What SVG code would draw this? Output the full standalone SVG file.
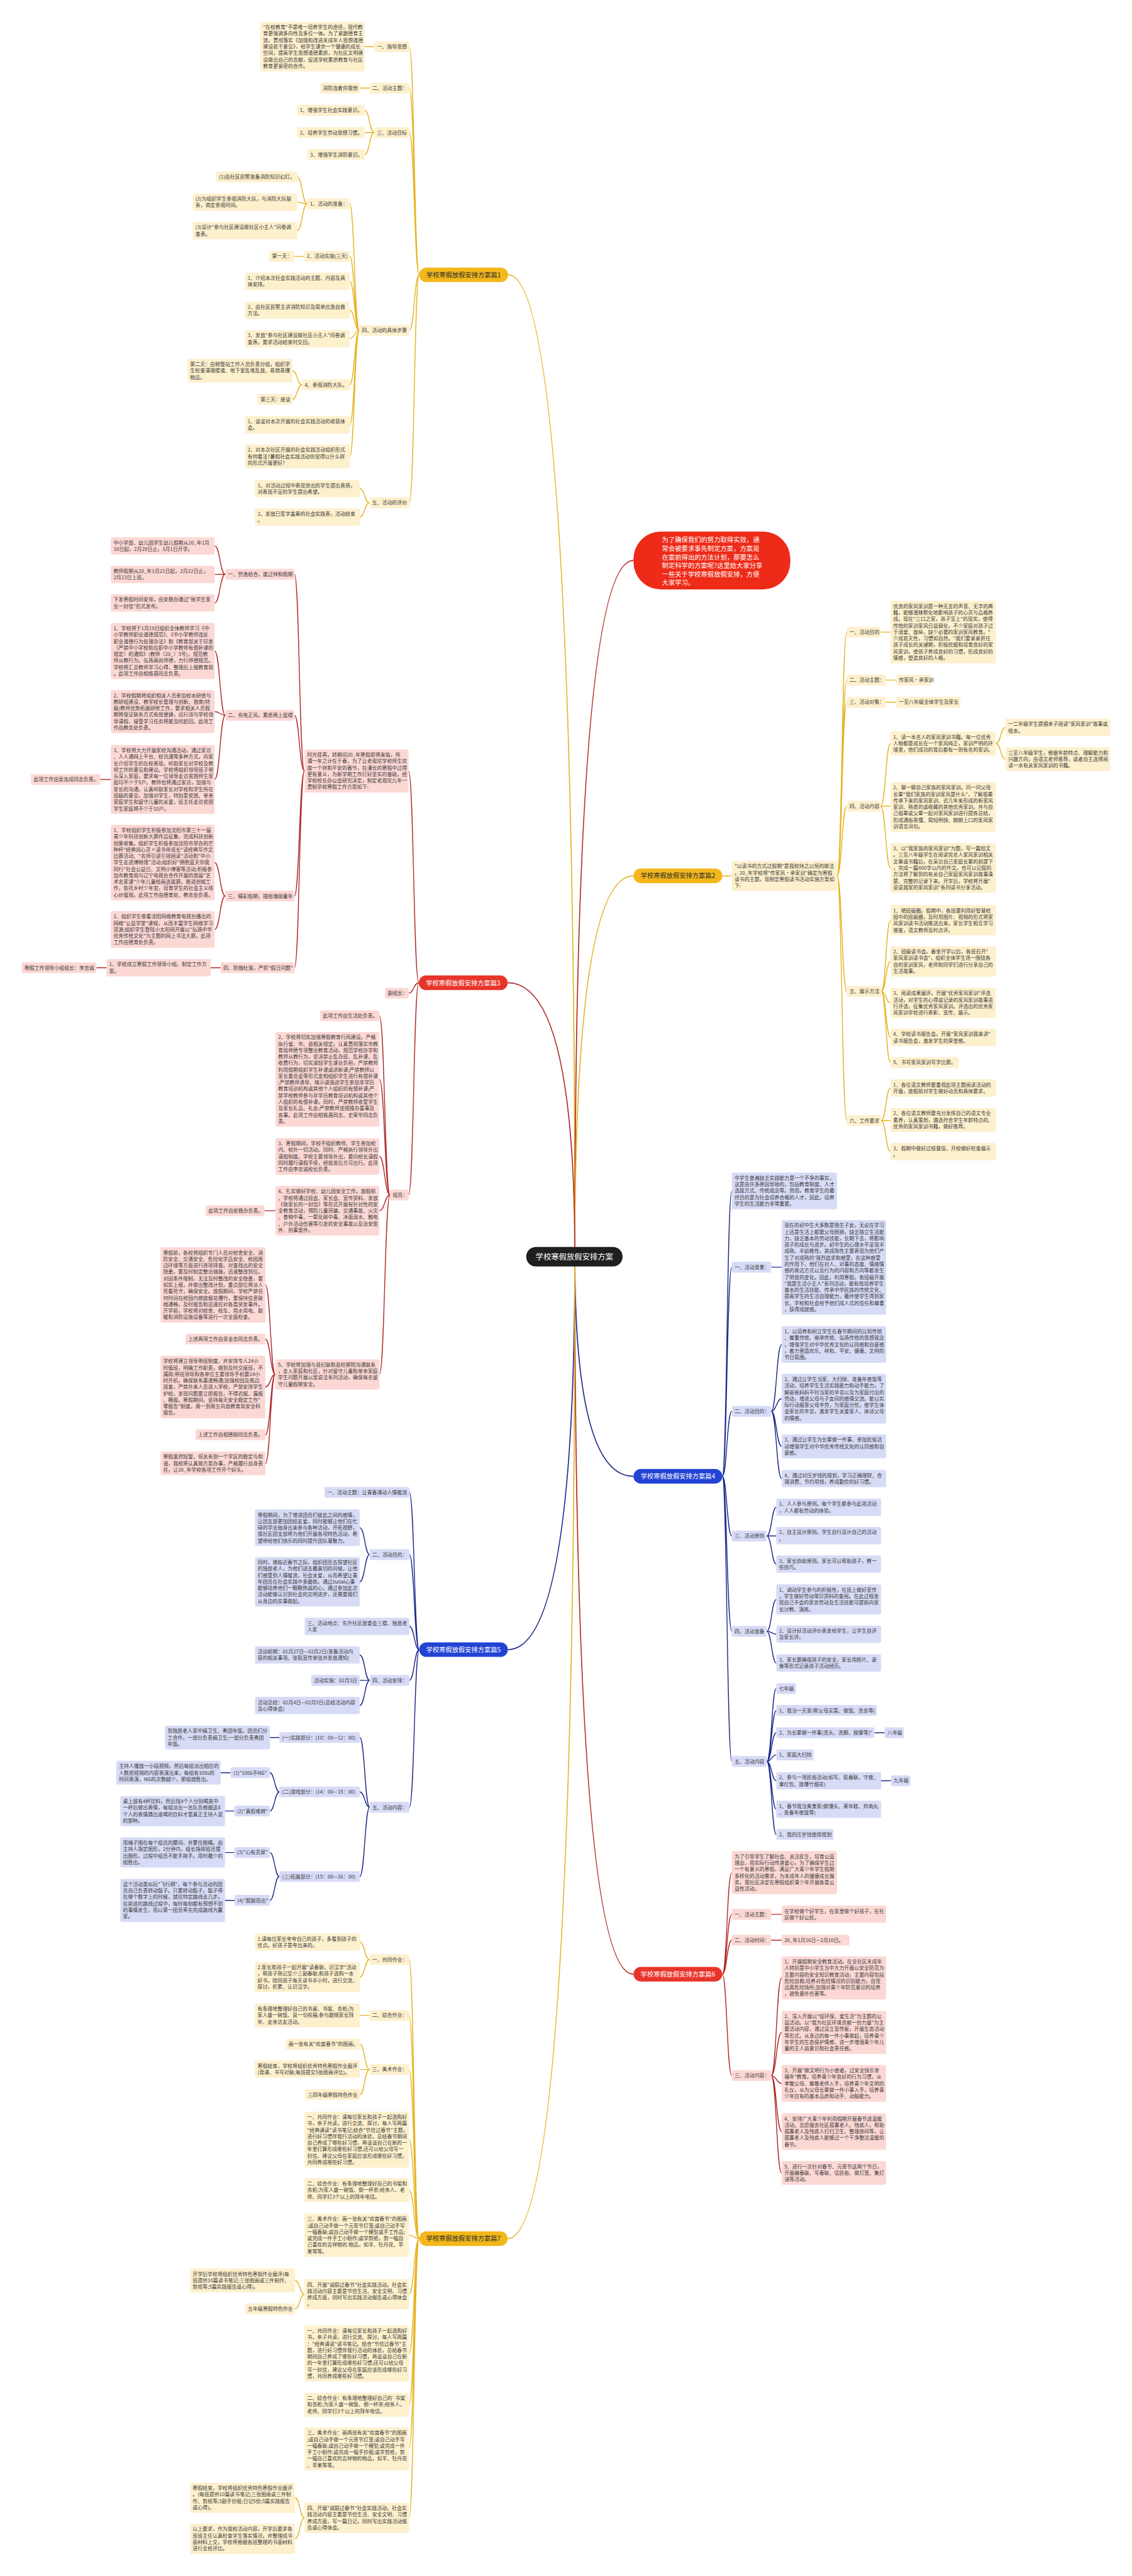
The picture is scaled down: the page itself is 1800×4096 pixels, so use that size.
<svg xmlns="http://www.w3.org/2000/svg" width="1800" height="4096" viewBox="0 0 1800 4096">
<style>
text{font-family:"Noto Sans CJK SC","Noto Sans",sans-serif;font-size:11.3px;fill:#383838}
.cy{fill:#FDF0CD}.cr{fill:#FCD8D5}.cb{fill:#D7DBF6}
.ny{fill:#F3B71B}.nr{fill:#E8352A}.nb{fill:#2243D3}
.nt{font-size:14.6px;text-anchor:middle;fill:#fff}.nty{font-size:14.6px;text-anchor:middle;fill:#2b2b2b}
.ly,.lr,.lb{fill:none;stroke-width:2}
.ly{stroke:#E6B422}.lr{stroke:#B02A2A}.lb{stroke:#1C2A8A}
.m{stroke-width:2.5}
</style>
<rect width="1800" height="4096" fill="#fff"/>
<g transform="scale(0.703125)">
<g id="connectors">
<path class="ly m" d="M1300 2842Q1300 621.5 1149 621.5"/>
<path class="lr m" d="M1300 2842Q1300 1267.5 1432.6 1267.5"/>
<path class="ly m" d="M1300 2842Q1300 1980.5 1432.6 1980.5"/>
<path class="lr m" d="M1300 2842Q1300 2222.5 1148 2222.5"/>
<path class="lb m" d="M1300 2842Q1300 3338.5 1432.6 3338.5"/>
<path class="lb m" d="M1300 2842Q1300 3730.5 1148.5 3730.5"/>
<path class="lr m" d="M1300 2842Q1300 4464.5 1432.6 4464.5"/>
<path class="ly m" d="M1300 2842Q1300 5062.5 1148 5062.5"/>
<path class="ly" d="M948 621.5C937 621.5 937 105.6 925.5 105.6M948 621.5C937 621.5 937 199.2 925.5 199.2M948 621.5C937 621.5 937 299.8 925.5 299.8M948 621.5C937 621.5 937 747.2 925.5 747.2M948 621.5C937 621.5 937 1137.2 925.5 1137.2M846.5 105.6H825M836 199.2H813.6M846.5 299.8C835.6 299.8 835.6 249.5 824.7 249.5M846.5 299.8H824.7M846.5 299.8C835.6 299.8 835.6 349.5 824.7 349.5M812.6 747.2C801.7 747.2 801.7 461 790.8 461M812.6 747.2C801.7 747.2 801.7 579.7 790.8 579.7M812.6 747.2C801.7 747.2 801.7 636.3 790.8 636.3M812.6 747.2C801.7 747.2 801.7 701.6 790.8 701.6M812.6 747.2C801.7 747.2 801.7 766 790.8 766M812.6 747.2C801.7 747.2 801.7 870.3 790.8 870.3M812.6 747.2C801.7 747.2 801.7 960.6 790.8 960.6M812.6 747.2C801.7 747.2 801.7 1032.3 790.8 1032.3M695 461C683.5 461 683.5 399.8 672 399.8M695 461C683.5 461 683.5 457.1 672 457.1M695 461C683.5 461 683.5 521.5 672 521.5M687.6 579.7H664.8M683 870.3C672 870.3 672 838.3 661.4 838.3M683 870.3C672 870.3 672 902.8 661.4 902.8M835.4 1137.2C824.5 1137.2 824.5 1105.1 813.6 1105.1M835.4 1137.2C824.5 1137.2 824.5 1169.3 813.6 1169.3"/>
<path class="lr" d="M947 2222.5C935.5 2222.5 935.5 1743.5 924 1743.5M947 2222.5C935.5 2222.5 935.5 2246.1 924 2246.1M947 2222.5C935.5 2222.5 935.5 2702.5 924 2702.5M688.6 1743.5C677 1743.5 677 1298.5 666 1298.5M688.6 1743.5C677 1743.5 677 1617.7 666 1617.7M688.6 1743.5C677 1743.5 677 2026.2 666 2026.2M688.6 1743.5C677 1743.5 677 2188.4 666 2188.4M509.5 1298.5C497.5 1298.5 497.5 1234.3 485.4 1234.3M509.5 1298.5C497.5 1298.5 497.5 1299 485.4 1299M509.5 1298.5C497.5 1298.5 497.5 1363.5 485.4 1363.5M509.5 1617.7C497.5 1617.7 497.5 1472.2 485.4 1472.2M509.5 1617.7C497.5 1617.7 497.5 1609.3 485.4 1609.3M509.5 1617.7C497.5 1617.7 497.5 1762.8 485.4 1762.8M250.6 1762.8H227.3M509.5 2026.2C497.5 2026.2 497.5 1950.6 485.4 1950.6M509.5 2026.2C497.5 2026.2 497.5 2102 485.4 2102M499 2188.4H476.4M240.8 2188.4H218M882 2702.5C870 2702.5 870 2297 858 2297M882 2702.5C870 2702.5 870 2440.8 858 2440.8M882 2702.5C870 2702.5 870 2615.1 858 2615.1M882 2702.5C870 2702.5 870 2738 858 2738M882 2702.5C870 2702.5 870 3108.1 858 3108.1M623 2738H598M622.7 3108.1C611.5 3108.1 611.5 2905.8 600.2 2905.8M622.7 3108.1C611.5 3108.1 611.5 3028.2 600.2 3028.2M622.7 3108.1C611.5 3108.1 611.5 3136.6 600.2 3136.6M622.7 3108.1C611.5 3108.1 611.5 3244.8 600.2 3244.8M622.7 3108.1C611.5 3108.1 611.5 3309.3 600.2 3309.3"/>
<path class="lb" d="M948 3730.5C937 3730.5 937 3374.7 925.7 3374.7M948 3730.5C937 3730.5 937 3515.5 925.7 3515.5M948 3730.5C937 3730.5 937 3677.8 925.7 3677.8M948 3730.5C937 3730.5 937 3800 925.7 3800M948 3730.5C937 3730.5 937 4087 925.7 4087M836 3515.5C825 3515.5 825 3454.8 813.5 3454.8M836 3515.5C825 3515.5 825 3577 813.5 3577M836 3800C825 3800 825 3742.5 813.5 3742.5M836 3800H813.5M836 3800C825 3800 825 3856.8 813.5 3856.8M836 4087C825 4087 825 3929.3 813.5 3929.3M836 4087C825 4087 825 4052.2 813.5 4052.2M836 4087C825 4087 825 4243.5 813.5 4243.5M632 3929.3H610.3M632 4052.2C621 4052.2 621 4008.9 610.3 4008.9M632 4052.2C621 4052.2 621 4095.5 610.3 4095.5M521.7 4008.9H499M530 4095.5H508.8M632 4243.5C621 4243.5 621 4189.3 610.3 4189.3M632 4243.5C621 4243.5 621 4297.5 610.3 4297.5M530 4189.3H508.8M530.5 4297.5H508.8"/>
<path class="ly" d="M948 5062.5C936.5 5062.5 936.5 4431.6 925 4431.6M948 5062.5C936.5 5062.5 936.5 4557.7 925 4557.7M948 5062.5C936.5 5062.5 936.5 4680 925 4680M948 5062.5C936.5 5062.5 936.5 4838.6 925 4838.6M948 5062.5C936.5 5062.5 936.5 4952.9 925 4952.9M948 5062.5C936.5 5062.5 936.5 5054.8 925 5054.8M948 5062.5C936.5 5062.5 936.5 5188.4 925 5188.4M948 5062.5C936.5 5062.5 936.5 5322.2 925 5322.2M948 5062.5C936.5 5062.5 936.5 5438 925 5438M948 5062.5C936.5 5062.5 936.5 5538.3 925 5538.3M948 5062.5C936.5 5062.5 936.5 5694 925 5694M835.6 4431.6C824.6 4431.6 824.6 4391.8 813.7 4391.8M835.6 4431.6C824.6 4431.6 824.6 4471.2 813.7 4471.2M835.6 4557.7H813.7M835.6 4680C824.6 4680 824.6 4622.8 813.7 4622.8M835.6 4680H813.7M835.6 4680C824.6 4680 824.6 4737 813.7 4737M688.7 5188.4C678 5188.4 678 5157 667.2 5157M688.7 5188.4C678 5188.4 678 5221.4 667.2 5221.4M688.7 5694C678 5694 678 5648.7 667.2 5648.7M688.7 5694C678 5694 678 5741.4 667.2 5741.4"/>
<path class="ly" d="M1633.5 1980.7H1655M1893 1981C1904 1981 1904 1429.5 1915 1429.5M1893 1981C1904 1981 1904 1538 1915 1538M1893 1981C1904 1981 1904 1588 1915 1588M1893 1981C1904 1981 1904 1823 1915 1823M1893 1981C1904 1981 1904 2242 1915 2242M1893 1981C1904 1981 1904 2534 1915 2534M1991.5 1429.5H2014M2003 1538H2026.7M2003 1588H2026.7M1991.5 1823C2003 1823 2003 1681.4 2014 1681.4M1991.5 1823H2014M1991.5 1823C2003 1823 2003 1962.9 2014 1962.9M2252 1681.4C2263 1681.4 2263 1645 2274 1645M2252 1681.4C2263 1681.4 2263 1716.9 2274 1716.9M1993 2242C2003.5 2242 2003.5 2081.2 2014 2081.2M1993 2242C2003.5 2242 2003.5 2174.2 2014 2174.2M1993 2242C2003.5 2242 2003.5 2268.2 2014 2268.2M1993 2242C2003.5 2242 2003.5 2346 2014 2346M1993 2242C2003.5 2242 2003.5 2403 2014 2403M1993 2534C2003.5 2534 2003.5 2460.6 2014 2460.6M1993 2534H2014M1993 2534C2003.5 2534 2003.5 2604.6 2014 2604.6"/>
<path class="lb" d="M1633.5 3338.5C1644 3338.5 1644 2693.2 1655 2693.2M1633.5 3338.5C1644 3338.5 1644 2865.5 1655 2865.5M1633.5 3338.5C1644 3338.5 1644 3191.5 1655 3191.5M1633.5 3338.5C1644 3338.5 1644 3473.5 1655 3473.5M1633.5 3338.5C1644 3338.5 1644 3689 1655 3689M1633.5 3338.5C1644 3338.5 1644 3983.5 1655 3983.5M1744 2865.6H1767.7M1744 3191.5C1756 3191.5 1756 3040.5 1767.7 3040.5M1744 3191.5C1756 3191.5 1756 3163.1 1767.7 3163.1M1744 3191.5C1756 3191.5 1756 3270.9 1767.7 3270.9M1744 3191.5C1756 3191.5 1756 3343.6 1767.7 3343.6M1734 3473.5C1745 3473.5 1745 3408.6 1755.6 3408.6M1734 3473.5H1755.6M1734 3473.5C1745 3473.5 1745 3537.1 1755.6 3537.1M1734 3689C1745 3689 1745 3617.2 1755.6 3617.2M1734 3689C1745 3689 1745 3695.6 1755.6 3695.6M1734 3689C1745 3689 1745 3760.6 1755.6 3760.6M1734 3983.5C1745 3983.5 1745 3818.5 1755.6 3818.5M1734 3983.5C1745 3983.5 1745 3868 1755.6 3868M1734 3983.5C1745 3983.5 1745 3918.5 1755.6 3918.5M1734 3983.5C1745 3983.5 1745 3968.5 1755.6 3968.5M1734 3983.5C1745 3983.5 1745 4027.1 1755.6 4027.1M1734 3983.5C1745 3983.5 1745 4091.6 1755.6 4091.6M1734 3983.5C1745 3983.5 1745 4148.5 1755.6 4148.5M1977.4 3918.5H2000.7M1992.6 4027.1H2015"/>
<path class="lr" d="M1633.5 4464.5C1644 4464.5 1644 4234.8 1655 4234.8M1633.5 4464.5C1644 4464.5 1644 4329 1655 4329M1633.5 4464.5C1644 4464.5 1644 4387.5 1655 4387.5M1633.5 4464.5C1644 4464.5 1644 4693.5 1655 4693.5M1744 4329H1767.7M1744 4387.5H1767.7M1744 4693.5C1756 4693.5 1756 4472.8 1767.7 4472.8M1744 4693.5C1756 4693.5 1756 4596.3 1767.7 4596.3M1744 4693.5C1756 4693.5 1756 4711.5 1767.7 4711.5M1744 4693.5C1756 4693.5 1756 4820.5 1767.7 4820.5M1744 4693.5C1756 4693.5 1756 4914 1767.7 4914"/>
</g>

<g id="center"><rect x="1190" y="2820" width="218" height="44" rx="22" fill="#1f1f1f"/><text x="1299" y="2848.5" style="font-size:17.5px;fill:#fff;text-anchor:middle">学校寒假放假安排方案</text></g>

<g id="intro"><rect x="1432.6" y="1202" width="354.7" height="131" rx="62" fill="#EE2B18"/><text x="1497" y="1226.5" style="font-size:14.7px;fill:#fff"><tspan>为了确保我们的努力取得实效，通</tspan><tspan x="1497" dy="19.3">常会被要求事先制定方案，方案是</tspan><tspan x="1497" dy="19.3">在案前得出的方法计划，那要怎么</tspan><tspan x="1497" dy="19.3">制定科学的方案呢?这里给大家分享</tspan><tspan x="1497" dy="19.3">一些关于学校寒假放假安排，方便</tspan><tspan x="1497" dy="19.3">大家学习。</tspan></text></g>

<!-- Branch 1 -->
<g id="n1"><rect class="ny" x="948" y="605" width="201" height="33" rx="16.5"/><text class="nty" x="1048.5" y="627">学校寒假放假安排方案篇1</text></g>
<g id="n1-1"><rect class="cy" x="846.5" y="93.4" width="79" height="24.5" rx="4"/><text x="852.5" y="109.7">一、指导思想</text></g>
<g id="n1-1a"><rect class="cy" x="589" y="49.4" width="236" height="112.1" rx="4"/><text x="595" y="65.7"><tspan>"在校教育"不是唯一培养学生的途径，现代教</tspan><tspan x="595" dy="14.6">育更强调多向性及多位一体。为了紧跟德育主</tspan><tspan x="595" dy="14.6">流，贯彻落实《加强和改进未成年人思想道德</tspan><tspan x="595" dy="14.6">建设若干意见》，给学生课余一个健康的成长</tspan><tspan x="595" dy="14.6">空间，提高学生思想道德素质，为社区文明建</tspan><tspan x="595" dy="14.6">设做出自己的贡献，促进学校素质教育与社区</tspan><tspan x="595" dy="14.6">教育更紧密的合作。</tspan></text></g>
<g id="n1-2"><rect class="cy" x="836" y="187" width="89.5" height="24.5" rx="4"/><text x="842" y="203.3">二、活动主题：</text></g>
<g id="n1-2a"><rect class="cy" x="724" y="187" width="89.6" height="24.5" rx="4"/><text x="730" y="203.3">消防连着你我他</text></g>
<g id="n1-3"><rect class="cy" x="846.5" y="287.5" width="79" height="24.5" rx="4"/><text x="852.5" y="303.8">三、活动目标</text></g>
<g id="n1-3a"><rect class="cy" x="672" y="237.2" width="152.7" height="24.5" rx="4"/><text x="678" y="253.5">1、增强学生社会实践意识。</text></g>
<g id="n1-3b"><rect class="cy" x="672" y="287.5" width="152.7" height="24.5" rx="4"/><text x="678" y="303.8">2、培养学生劳动思想习惯。</text></g>
<g id="n1-3c"><rect class="cy" x="695" y="337.2" width="129.7" height="24.5" rx="4"/><text x="701" y="353.5">3、增强学生消防意识。</text></g>
<g id="n1-4"><rect class="cy" x="812.6" y="734.9" width="113" height="24.5" rx="4"/><text x="818.6" y="751.2">四、活动的具体步骤</text></g>
<g id="n1-4a"><rect class="cy" x="695" y="448.8" width="96" height="24.5" rx="4"/><text x="701" y="465.1">1、活动的准备：</text></g>
<g id="n1-4a1"><rect class="cy" x="489" y="387.5" width="183" height="24.5" rx="4"/><text x="495" y="403.8">(1)由社区民警准备消防知识幻灯。</text></g>
<g id="n1-4a2"><rect class="cy" x="436" y="437.6" width="236" height="39.1" rx="4"/><text x="442" y="453.9"><tspan>(2)为组织学生参观消防大队，与消防大队联</tspan><tspan x="442" dy="14.6">系，商定参观时间。</tspan></text></g>
<g id="n1-4a3"><rect class="cy" x="436" y="502" width="236" height="39.1" rx="4"/><text x="442" y="518.3"><tspan>(3)设计"参与社区建设做社区小主人"问卷调</tspan><tspan x="442" dy="14.6">查表。</tspan></text></g>
<g id="n1-4b"><rect class="cy" x="687.6" y="567.4" width="103.2" height="24.5" rx="4"/><text x="693.6" y="583.7">2、活动实施(三天)</text></g>
<g id="n1-4b1"><rect class="cy" x="609" y="567.4" width="56" height="24.5" rx="4"/><text x="615" y="583.7">第一天：</text></g>
<g id="n1-4c"><rect class="cy" x="554" y="616.8" width="236.8" height="39.1" rx="4"/><text x="560" y="633.1"><tspan>1、介绍本次社会实践活动的主题、内容及具</tspan><tspan x="560" dy="14.6">体安排。</tspan></text></g>
<g id="n1-4d"><rect class="cy" x="554" y="682" width="236.8" height="39.1" rx="4"/><text x="560" y="698.3"><tspan>2、由社区民警主讲消防知识及简单应急自救</tspan><tspan x="560" dy="14.6">方法。</tspan></text></g>
<g id="n1-4e"><rect class="cy" x="554" y="746.5" width="236.8" height="39.1" rx="4"/><text x="560" y="762.8"><tspan>3、发放"参与社区建设做社区小主人"问卷调</tspan><tspan x="560" dy="14.6">查表，要求活动结束时交回。</tspan></text></g>
<g id="n1-4f"><rect class="cy" x="683" y="858" width="107.8" height="24.5" rx="4"/><text x="689" y="874.3">4、参观消防大队。</text></g>
<g id="n1-4f1"><rect class="cy" x="424" y="811.5" width="237.4" height="53.7" rx="4"/><text x="430" y="827.8"><tspan>第二天：由物管站工作人员负责分组，组织学</tspan><tspan x="430" dy="14.6">生检查清理楼道、地下室乱堆乱放、易燃易爆</tspan><tspan x="430" dy="14.6">物品。</tspan></text></g>
<g id="n1-4f2"><rect class="cy" x="583" y="890.6" width="78.4" height="24.5" rx="4"/><text x="589" y="906.9">第三天：座谈</text></g>
<g id="n1-4g"><rect class="cy" x="554" y="941" width="236.8" height="39.1" rx="4"/><text x="560" y="957.3"><tspan>1、谈谈对本次开展的社会实践活动的收获体</tspan><tspan x="560" dy="14.6">会。</tspan></text></g>
<g id="n1-4h"><rect class="cy" x="554" y="1005.4" width="236.8" height="53.7" rx="4"/><text x="560" y="1021.7"><tspan>2、对本次社区开展的社会实践活动组织形式</tspan><tspan x="560" dy="14.6">有何看法?暑假社会实践活动你觉得以什么样</tspan><tspan x="560" dy="14.6">的形式开展更好?</tspan></text></g>
<g id="n1-5"><rect class="cy" x="835.4" y="1125" width="90" height="24.5" rx="4"/><text x="841.4" y="1141.3">五、活动的评价</text></g>
<g id="n1-5a"><rect class="cy" x="576.6" y="1085.5" width="237" height="39.1" rx="4"/><text x="582.6" y="1101.8"><tspan>1、对活动过程中表现突出的学生提出表扬，</tspan><tspan x="582.6" dy="14.6">对表现不足的学生提出希望。</tspan></text></g>
<g id="n1-5b"><rect class="cy" x="576.6" y="1149.7" width="237" height="39.1" rx="4"/><text x="582.6" y="1166"><tspan>2、发放已签字盖章的社会实践表，活动结束</tspan><tspan x="582.6" dy="14.6">。</tspan></text></g>

<!-- Branch 3 -->
<g id="n3"><rect class="nr" x="947" y="2206" width="201" height="33" rx="16.5"/><text class="nt" x="1047.5" y="2228">学校寒假放假安排方案篇3</text></g>
<g id="n3-1"><rect class="cr" x="688.6" y="1694.8" width="235.4" height="97.5" rx="4"/><text x="694.6" y="1711.1"><tspan>时光荏苒，转瞬间20_年寒假即将来临，所</tspan><tspan x="694.6" dy="14.6">谓一年之计在于春，为了让老观坨学校师生欢</tspan><tspan x="694.6" dy="14.6">度一个祥和平安的春节，在漫长的寒假中过得</tspan><tspan x="694.6" dy="14.6">更有意义，为新学期工作打好坚实的基础，经</tspan><tspan x="694.6" dy="14.6">学校校长办公会研究决定，制定老观坨九年一</tspan><tspan x="694.6" dy="14.6">贯制学校寒假工作方案如下:</tspan></text></g>
<g id="n3-2"><rect class="cr" x="870.8" y="2233.8" width="53.2" height="24.5" rx="4"/><text x="876.8" y="2250.1">副组长：</text></g>
<g id="n3-3"><rect class="cr" x="882" y="2690.3" width="42" height="24.5" rx="4"/><text x="888" y="2706.6">组员：</text></g>
<g id="n3-1-1"><rect class="cr" x="509.5" y="1286.3" width="156.5" height="24.5" rx="4"/><text x="515.5" y="1302.6">一、劳逸结合，度过祥和假期</text></g>
<g id="n3-1-1a"><rect class="cr" x="250.6" y="1214.8" width="234.8" height="39.1" rx="4"/><text x="256.6" y="1231.1"><tspan>中小学部、幼儿园学生幼儿假期从20_年1月</tspan><tspan x="256.6" dy="14.6">18日起，2月29日止，3月1日开学。</tspan></text></g>
<g id="n3-1-1b"><rect class="cr" x="250.6" y="1279.5" width="234.8" height="39.1" rx="4"/><text x="256.6" y="1295.8"><tspan>教师假期从20_年1月21日起，2月22日止，</tspan><tspan x="256.6" dy="14.6">2月23日上班。</tspan></text></g>
<g id="n3-1-1c"><rect class="cr" x="250.6" y="1344" width="234.8" height="39.1" rx="4"/><text x="256.6" y="1360.3"><tspan>下发寒假时间安排，由安稳办通过"致学生家</tspan><tspan x="256.6" dy="14.6">长一封信"形式发布。</tspan></text></g>
<g id="n3-1-2"><rect class="cr" x="509.5" y="1605.5" width="156.5" height="24.5" rx="4"/><text x="515.5" y="1621.8">二、充电正风，素质再上层楼</text></g>
<g id="n3-1-2a"><rect class="cr" x="250.6" y="1408.8" width="234.8" height="126.7" rx="4"/><text x="256.6" y="1425.1"><tspan>1、学校将于1月19日组织全体教师学习《中</tspan><tspan x="256.6" dy="14.6">小学教师职业道德规范》、《中小学教师违反</tspan><tspan x="256.6" dy="14.6">职业道德行为处理办法》和《教育部关于印发</tspan><tspan x="256.6" dy="14.6">〈严禁中小学校和在职中小学教师有偿补课的</tspan><tspan x="256.6" dy="14.6">规定〉的通知》(教师〔20_〕5号)，规范教</tspan><tspan x="256.6" dy="14.6">师从教行为，弘扬高尚师德，力行师德规范。</tspan><tspan x="256.6" dy="14.6">学校将汇总教师学习心得，整理后上报教育局</tspan><tspan x="256.6" dy="14.6">。此项工作由相铁昌同志负责。</tspan></text></g>
<g id="n3-1-2b"><rect class="cr" x="250.6" y="1560.5" width="234.8" height="97.5" rx="4"/><text x="256.6" y="1576.8"><tspan>2、学校假期将组织相关人员参加校本研修与</tspan><tspan x="256.6" dy="14.6">教研组建设、教学校长管理与创新、首席(特</tspan><tspan x="256.6" dy="14.6">级)教师优势拓展研修工作，要求相关人员假</tspan><tspan x="256.6" dy="14.6">期将保证联系方式有效便捷，远行须与学校领</tspan><tspan x="256.6" dy="14.6">导请假，接受学习任务将能及时赶回。此项工</tspan><tspan x="256.6" dy="14.6">作由教务处负责。</tspan></text></g>
<g id="n3-1-2c"><rect class="cr" x="250.6" y="1684.9" width="234.8" height="155.9" rx="4"/><text x="256.6" y="1701.2"><tspan>3、学校将大力开展家校沟通活动，通过家访</tspan><tspan x="256.6" dy="14.6">、人人通网上平台、校讯通等多种方式，向家</tspan><tspan x="256.6" dy="14.6">长介绍学生的在校表现，听取家长对学校及教</tspan><tspan x="256.6" dy="14.6">师工作的意见和建议。学校将组织领导班子带</tspan><tspan x="256.6" dy="14.6">头深入家庭，要求每一位领导走访贫困师生家</tspan><tspan x="256.6" dy="14.6">庭均不少于5户。教师也将通过家访，加强与</tspan><tspan x="256.6" dy="14.6">家长的沟通，认真听取家长对学校和学生所在</tspan><tspan x="256.6" dy="14.6">班级的意见，加强对学生，特别是贫困、单亲</tspan><tspan x="256.6" dy="14.6">家庭学生和留守儿童的关爱，班主任走访贫困</tspan><tspan x="256.6" dy="14.6">学生家庭将不少于10户。</tspan></text></g>
<g id="n3-1-2c1"><rect class="cr" x="70" y="1750.6" width="157.3" height="24.5" rx="4"/><text x="76" y="1766.9">此项工作由吴连成同志负责。</text></g>
<g id="n3-1-3"><rect class="cr" x="509.5" y="2014" width="156.5" height="24.5" rx="4"/><text x="515.5" y="2030.3">三、精彩假期，描绘瑰丽童年</text></g>
<g id="n3-1-3a"><rect class="cr" x="250.6" y="1865.4" width="234.8" height="170.5" rx="4"/><text x="256.6" y="1881.7"><tspan>1、学校组织学生积极参加沈阳市第三十一届</tspan><tspan x="256.6" dy="14.6">青少年科技创新大赛作品征集，完成科技创新</tspan><tspan x="256.6" dy="14.6">创意收集。组织学生积极参加沈阳市举办的芒</tspan><tspan x="256.6" dy="14.6">种杯"经典润心灵〃读书伴成长"读经典写作文</tspan><tspan x="256.6" dy="14.6">比赛活动、"名师引读引领阅读"活动和"中小</tspan><tspan x="256.6" dy="14.6">学生走进博物馆"活动;组织好"拥抱蓝天你我</tspan><tspan x="256.6" dy="14.6">同行"社会公益日、文明小博客等活动;积极参</tspan><tspan x="256.6" dy="14.6">加市教育局与辽宁电视台合作开展的首届"艺</tspan><tspan x="256.6" dy="14.6">术名家课"少年儿童绘画选拔赛，推进创城工</tspan><tspan x="256.6" dy="14.6">作，依托乡村少年宫，培育学生的社会主义核</tspan><tspan x="256.6" dy="14.6">心价值观。此项工作由德育处、教务处负责。</tspan></text></g>
<g id="n3-1-3b"><rect class="cr" x="250.6" y="2060.5" width="234.8" height="82.9" rx="4"/><text x="256.6" y="2076.8"><tspan>2、组织学生收看沈阳网络教育电视台播出的</tspan><tspan x="256.6" dy="14.6">网络"公益学堂"课程，从而丰富学生网络学习</tspan><tspan x="256.6" dy="14.6">资源;组织学生登陆小太阳网开展以"弘扬中华</tspan><tspan x="256.6" dy="14.6">优秀传统文化"为主题的网上书法大赛。此项</tspan><tspan x="256.6" dy="14.6">工作由德育处负责。</tspan></text></g>
<g id="n3-1-4"><rect class="cr" x="499" y="2176.2" width="167" height="24.5" rx="4"/><text x="505" y="2192.5">四、防微杜渐，严抓"假日问题"</text></g>
<g id="n3-1-4a"><rect class="cr" x="240.8" y="2168.9" width="235.6" height="39.1" rx="4"/><text x="246.8" y="2185.2"><tspan>1、学校成立寒假工作领导小组，制定工作方</tspan><tspan x="246.8" dy="14.6">案。</tspan></text></g>
<g id="n3-1-4a1"><rect class="cr" x="49" y="2176.2" width="169" height="24.5" rx="4"/><text x="55" y="2192.5">寒假工作领导小组组长：李忠诚</text></g>
<g id="n3-3a"><rect class="cr" x="724" y="2284.8" width="134" height="24.5" rx="4"/><text x="730" y="2301.1">此项工作由生活处负责。</text></g>
<g id="n3-3b"><rect class="cr" x="623" y="2333.7" width="235" height="214.3" rx="4"/><text x="629" y="2350"><tspan>2、学校将切实加强寒假教育行风建设。严格</tspan><tspan x="629" dy="14.6">执行省、市、县相关规定，认真贯彻落实市教</tspan><tspan x="629" dy="14.6">育局师德专项整治教育活动，规范学校办学和</tspan><tspan x="629" dy="14.6">教师从教行为，坚决禁止乱办班、乱补课、乱</tspan><tspan x="629" dy="14.6">收费行为，切实减轻学生课业负担，严禁教师</tspan><tspan x="629" dy="14.6">利用假期组织学生补课或讲新课;严禁教师以</tspan><tspan x="629" dy="14.6">家长委员会等形式变相组织学生进行有偿补课</tspan><tspan x="629" dy="14.6">;严禁教师诱导、暗示或强迫学生参加非学历</tspan><tspan x="629" dy="14.6">教育培训机构或其他个人组织的有偿补课;严</tspan><tspan x="629" dy="14.6">禁学校教师参与非学历教育培训机构或其他个</tspan><tspan x="629" dy="14.6">人组织的有偿补课。同时，严禁教师收受学生</tspan><tspan x="629" dy="14.6">及家长礼品、礼金;严禁教师违规操办喜事及</tspan><tspan x="629" dy="14.6">丧事。此项工作由相铁昌同志、史荣华同志负</tspan><tspan x="629" dy="14.6">责。</tspan></text></g>
<g id="n3-3c"><rect class="cr" x="623" y="2573.7" width="235" height="82.9" rx="4"/><text x="629" y="2590"><tspan>3、寒假期间，学校不组织教师、学生参加校</tspan><tspan x="629" dy="14.6">内、校外一切活动。同时，严格执行领导外出</tspan><tspan x="629" dy="14.6">请假制度。学校主要领导外出，要向校长请假</tspan><tspan x="629" dy="14.6">同时履行请假手续，经批准后方可出行。此项</tspan><tspan x="629" dy="14.6">工作由李忠诚校长负责。</tspan></text></g>
<g id="n3-3d"><rect class="cr" x="623" y="2682" width="235" height="112.1" rx="4"/><text x="629" y="2698.3"><tspan>4、扎实做好学校、幼儿园安全工作。放假前</tspan><tspan x="629" dy="14.6">，学校将通过班会、家长会、宣传资料、发放</tspan><tspan x="629" dy="14.6">《致家长的一封信》等形式开展有针对性的安</tspan><tspan x="629" dy="14.6">全教育活动，预防儿童拐骗、交通事故、火灾</tspan><tspan x="629" dy="14.6">、食物中毒、一氧化碳中毒、冰面溺水、触电</tspan><tspan x="629" dy="14.6">、户外活动伤害等引发的安全事故以及治安案</tspan><tspan x="629" dy="14.6">件、刑事案件。</tspan></text></g>
<g id="n3-3d1"><rect class="cr" x="465" y="2725.8" width="133" height="24.5" rx="4"/><text x="471" y="2742.1">此项工作由安稳办负责。</text></g>
<g id="n3-3e"><rect class="cr" x="622.7" y="3074" width="235.7" height="68.3" rx="4"/><text x="628.7" y="3090.3"><tspan>5、学校将加强与县妇联和县检察院沟通联系</tspan><tspan x="628.7" dy="14.6">，走入家庭和社区，针对留守儿童和单亲家庭</tspan><tspan x="628.7" dy="14.6">学生问题开展以案说法系列活动，确保每名留</tspan><tspan x="628.7" dy="14.6">守儿童假期安全。</tspan></text></g>
<g id="n3-3e1"><rect class="cr" x="362.9" y="2820.6" width="237.3" height="170.5" rx="4"/><text x="368.9" y="2836.9"><tspan>寒假前，各校将组织专门人员对校舍安全、消</tspan><tspan x="368.9" dy="14.6">防安全、交通安全、危险化学品安全、校园周</tspan><tspan x="368.9" dy="14.6">边环境等方面进行逐项排查。对查找出的安全</tspan><tspan x="368.9" dy="14.6">隐患，要及时制定整治措施，迅速整改到位。</tspan><tspan x="368.9" dy="14.6">对因条件限制，无法及时整改的安全隐患，要</tspan><tspan x="368.9" dy="14.6">如实上报，并做出整改计划，重点部位将派人</tspan><tspan x="368.9" dy="14.6">死看死守，确保安全。放假期间，学校严禁任</tspan><tspan x="368.9" dy="14.6">何时间在校园内燃放烟花爆竹，要保持信息联</tspan><tspan x="368.9" dy="14.6">络通畅，及时报告和迅速应对各类突发事件。</tspan><tspan x="368.9" dy="14.6">开学前，学校将对校舍、校车、用水用电、取</tspan><tspan x="368.9" dy="14.6">暖和消防设施设备等进行一次全面检查。</tspan></text></g>
<g id="n3-3e2"><rect class="cr" x="419.5" y="3016" width="180.7" height="24.5" rx="4"/><text x="425.5" y="3032.3">上述两项工作由吴金忠同志负责。</text></g>
<g id="n3-3e3"><rect class="cr" x="362.9" y="3066" width="237.3" height="141.3" rx="4"/><text x="368.9" y="3082.3"><tspan>学校将建立领导带班制度，并安排专人24小</tspan><tspan x="368.9" dy="14.6">时值班，明确工作职责，做到及时交接班，不</tspan><tspan x="368.9" dy="14.6">漏岗;带班领导和各单位主要领导手机要24小</tspan><tspan x="368.9" dy="14.6">时开机，确保联系渠道畅通;加强校园及周边</tspan><tspan x="368.9" dy="14.6">巡查，严禁外来人员进入学校，严禁安排学生</tspan><tspan x="368.9" dy="14.6">护校。发现问题要立即报告，不得迟报、漏报</tspan><tspan x="368.9" dy="14.6">、瞒报。寒假期间，坚持每天安全稳定工作"</tspan><tspan x="368.9" dy="14.6">零报告"制度，周一到周五向县教育局安全科</tspan><tspan x="368.9" dy="14.6">报告。</tspan></text></g>
<g id="n3-3e4"><rect class="cr" x="442" y="3232.5" width="158.2" height="24.5" rx="4"/><text x="448" y="3248.8">上述工作由相德刚同志负责。</text></g>
<g id="n3-3e5"><rect class="cr" x="362.9" y="3282.5" width="237.3" height="53.7" rx="4"/><text x="368.9" y="3298.8"><tspan>寒假虽然短暂，但关系到一个学区的稳定与和</tspan><tspan x="368.9" dy="14.6">谐，我校将认真按方案办事，严格履行自身责</tspan><tspan x="368.9" dy="14.6">任，让20_年学校各项工作开个好头。</tspan></text></g>

<!-- Branch 5 -->
<g id="n5"><rect class="nb" x="948" y="3714" width="200.5" height="33" rx="16.5"/><text class="nt" x="1048.25" y="3736">学校寒假放假安排方案篇5</text></g>
<g id="n5-1"><rect class="cb" x="733.8" y="3362.5" width="191.9" height="24.5" rx="4"/><text x="739.8" y="3378.8">一、活动主题：让青春涌动人情暖流</text></g>
<g id="n5-2"><rect class="cb" x="836" y="3503.3" width="89.7" height="24.5" rx="4"/><text x="842" y="3519.6">二、活动目的：</text></g>
<g id="n5-2a"><rect class="cb" x="576.7" y="3413.4" width="236.8" height="82.9" rx="4"/><text x="582.7" y="3429.7"><tspan>寒假期间，为了增进团员们彼此之间的感情，</tspan><tspan x="582.7" dy="14.6">让团支部更加团结友爱，同时能够让他们在忙</tspan><tspan x="582.7" dy="14.6">碌的学业抽身出来参与各种活动，开拓视野，</tspan><tspan x="582.7" dy="14.6">我社区团支部将为他们开展各项特色活动，希</tspan><tspan x="582.7" dy="14.6">望带给他们快乐的同时提升团队凝聚力。</tspan></text></g>
<g id="n5-2b"><rect class="cb" x="576.7" y="3521" width="236.8" height="112.1" rx="4"/><text x="582.7" y="3537.3"><tspan>同时，借临近春节之际，组织团员去探望社区</tspan><tspan x="582.7" dy="14.6">的独居老人，为他们送去最真切的问候，让他</tspan><tspan x="582.7" dy="14.6">们感受到人情暖流，社会关爱，从而希望让青</tspan><tspan x="582.7" dy="14.6">年团员在社会实践中多磨练。通过zuoai心事</tspan><tspan x="582.7" dy="14.6">能够培养他们一颗颗热诚的心，通过参加此次</tspan><tspan x="582.7" dy="14.6">活动能够认识到社会的文明进步，还需要我们</tspan><tspan x="582.7" dy="14.6">从身边的实事做起。</tspan></text></g>
<g id="n5-3"><rect class="cb" x="689" y="3658.3" width="236.7" height="39.1" rx="4"/><text x="695" y="3674.6"><tspan>三、活动地点：东升社区居委会三楼、独居老</tspan><tspan x="695" dy="14.6">人家</tspan></text></g>
<g id="n5-4"><rect class="cb" x="836" y="3787.8" width="89.7" height="24.5" rx="4"/><text x="842" y="3804.1">四、活动安排：</text></g>
<g id="n5-4a"><rect class="cb" x="576.7" y="3723" width="236.8" height="39.1" rx="4"/><text x="582.7" y="3739.3"><tspan>活动前期：01月27日—02月2日(准备活动内</tspan><tspan x="582.7" dy="14.6">容的相关事项、张贴宣传单张并发放通知)</tspan></text></g>
<g id="n5-4b"><rect class="cb" x="704" y="3787.8" width="109.5" height="24.5" rx="4"/><text x="710" y="3804.1">活动实施：02月3日</text></g>
<g id="n5-4c"><rect class="cb" x="576.7" y="3837.3" width="236.8" height="39.1" rx="4"/><text x="582.7" y="3853.6"><tspan>活动总结：02月4日—02月5日(总结活动内容</tspan><tspan x="582.7" dy="14.6">及心得体会)</tspan></text></g>
<g id="n5-5"><rect class="cb" x="836" y="4074.8" width="89.7" height="24.5" rx="4"/><text x="842" y="4091.1">五、活动内容：</text></g>
<g id="n5-5a"><rect class="cb" x="632" y="3917" width="181.5" height="24.5" rx="4"/><text x="638" y="3933.3">(一)实践部分：(10：00—12：00)</text></g>
<g id="n5-5a1"><rect class="cb" x="373" y="3902.4" width="237.3" height="53.7" rx="4"/><text x="379" y="3918.7"><tspan>到独居老人家中搞卫生、煮团年饭。团员们分</tspan><tspan x="379" dy="14.6">工合作，一部分负责搞卫生;一部分负责煮团</tspan><tspan x="379" dy="14.6">年饭。</tspan></text></g>
<g id="n5-5b"><rect class="cb" x="632" y="4040" width="181.5" height="24.5" rx="4"/><text x="638" y="4056.3">(二)游戏部分：(14：00—15：00)</text></g>
<g id="n5-5b1"><rect class="cb" x="521.7" y="3996.6" width="88.6" height="24.5" rx="4"/><text x="527.7" y="4012.9">(1)"100s不NG"</text></g>
<g id="n5-5b1a"><rect class="cb" x="263" y="3982" width="236" height="53.7" rx="4"/><text x="269" y="3998.3"><tspan>主持人播放一小段视频，然后每组派出相应的</tspan><tspan x="269" dy="14.6">人数把视频的内容表演出来，每组有100s的</tspan><tspan x="269" dy="14.6">时间表演，NG的次数越少，那组就胜出。</tspan></text></g>
<g id="n5-5b2"><rect class="cb" x="530" y="4083.3" width="80.3" height="24.5" rx="4"/><text x="536" y="4099.6">(2)"真假难辨"</text></g>
<g id="n5-5b2a"><rect class="cb" x="272" y="4061.4" width="236.8" height="68.3" rx="4"/><text x="278" y="4077.7"><tspan>桌上放有4杯饮料，然后找4个人分别喝其中</tspan><tspan x="278" dy="14.6">一杯后做出表情，每组派出一名队员根据这4</tspan><tspan x="278" dy="14.6">个人的表情猜出谁喝的饮料才是真正主持人说</tspan><tspan x="278" dy="14.6">的那种。</tspan></text></g>
<g id="n5-5c"><rect class="cb" x="632" y="4231.3" width="181.5" height="24.5" rx="4"/><text x="638" y="4247.6">(三)拓展部分：(15：00—16：00)</text></g>
<g id="n5-5c1"><rect class="cb" x="530" y="4177" width="80.3" height="24.5" rx="4"/><text x="536" y="4193.3">(3)"心有灵犀"</text></g>
<g id="n5-5c1a"><rect class="cb" x="272" y="4155.1" width="236.8" height="68.3" rx="4"/><text x="278" y="4171.4"><tspan>用绳子围在每个组员的腰间，并蒙住眼睛。由</tspan><tspan x="278" dy="14.6">主持人指定图形，2分钟内，组长指挥组员摆</tspan><tspan x="278" dy="14.6">出图形，过程中组员不能手拖手。用时最少的</tspan><tspan x="278" dy="14.6">组胜出。</tspan></text></g>
<g id="n5-5c2"><rect class="cb" x="530.5" y="4285.3" width="80" height="24.5" rx="4"/><text x="536.5" y="4301.6">(4)"脱颖而出"</text></g>
<g id="n5-5c2a"><rect class="cb" x="272" y="4248.8" width="236.8" height="97.5" rx="4"/><text x="278" y="4265.1"><tspan>这个活动类似玩"飞行棋"，每个参与活动的团</tspan><tspan x="278" dy="14.6">员自己负责转动骰子。只要转动骰子，骰子停</tspan><tspan x="278" dy="14.6">在哪个数字上的时候，就往特定路线走几步。</tspan><tspan x="278" dy="14.6">在前进的路线过程中，每时每刻都有预想不到</tspan><tspan x="278" dy="14.6">的事情发生，而以第一团员率先完成路线为赢</tspan><tspan x="278" dy="14.6">家。</tspan></text></g>

<!-- Branch 7 -->
<g id="n7"><rect class="ny" x="948" y="5046" width="200" height="33" rx="16.5"/><text class="nty" x="1048" y="5068">学校寒假放假安排方案篇7</text></g>
<g id="n7-1"><rect class="cy" x="835.6" y="4419.3" width="89.4" height="24.5" rx="4"/><text x="841.6" y="4435.6">一、共同作业：</text></g>
<g id="n7-1a"><rect class="cy" x="576.4" y="4372.2" width="237.3" height="39.1" rx="4"/><text x="582.4" y="4388.5"><tspan>1.请每位家长夸夸自己的孩子，多看到孩子的</tspan><tspan x="582.4" dy="14.6">优点。好孩子是夸出来的。</tspan></text></g>
<g id="n7-1b"><rect class="cy" x="576.4" y="4437" width="237.3" height="68.3" rx="4"/><text x="582.4" y="4453.3"><tspan>2.家长和孩子一起开展"读春联，识汉字"活动</tspan><tspan x="582.4" dy="14.6">，帮孩子熟记至少三副春联;和孩子选购一本</tspan><tspan x="582.4" dy="14.6">好书，陪同孩子每天读书半小时，进行交流、</tspan><tspan x="582.4" dy="14.6">探讨，积累、认识汉字。</tspan></text></g>
<g id="n7-2"><rect class="cy" x="835.6" y="4545.4" width="89.4" height="24.5" rx="4"/><text x="841.6" y="4561.7">二、综合作业：</text></g>
<g id="n7-2a"><rect class="cy" x="576.4" y="4530.8" width="237.3" height="53.7" rx="4"/><text x="582.4" y="4547.1"><tspan>有条理地整理好自己的书桌、书架、衣柜;为</tspan><tspan x="582.4" dy="14.6">家人盛一碗饭、说一句祝福;参与跟随家长拜</tspan><tspan x="582.4" dy="14.6">年、走亲访友活动。</tspan></text></g>
<g id="n7-3"><rect class="cy" x="835.6" y="4667.7" width="89.4" height="24.5" rx="4"/><text x="841.6" y="4684">三、美术作业：</text></g>
<g id="n7-3a"><rect class="cy" x="646.3" y="4610.5" width="167.4" height="24.5" rx="4"/><text x="652.3" y="4626.8">画一张有关"欢度春节"的图画。</text></g>
<g id="n7-3b"><rect class="cy" x="576.4" y="4659.6" width="237.3" height="39.1" rx="4"/><text x="582.4" y="4675.9"><tspan>寒假结束，学校将组织优秀特色寒假作业展评</tspan><tspan x="582.4" dy="14.6">(背诵、书写对联;每班提交5张图画评比)。</tspan></text></g>
<g id="n7-3c"><rect class="cy" x="690" y="4724.7" width="123.7" height="24.5" rx="4"/><text x="696" y="4741">三四年级寒假特色作业</text></g>
<g id="n7-4"><rect class="cy" x="688.7" y="4775.3" width="236.3" height="126.7" rx="4"/><text x="694.7" y="4791.6"><tspan>一、共同作业：请每位家长和孩子一起选购好</tspan><tspan x="694.7" dy="14.6">书，亲子共读，进行交流、探讨，每人写两篇</tspan><tspan x="694.7" dy="14.6">"经典诵读"读书笔记;结合"节俭过春节"主题，</tspan><tspan x="694.7" dy="14.6">进行好习惯伴我行活动的体验，总结春节期间</tspan><tspan x="694.7" dy="14.6">自己养成了哪些好习惯，再谈谈自己在新的一</tspan><tspan x="694.7" dy="14.6">年里打算形成哪些好习惯;还可以给父母写一</tspan><tspan x="694.7" dy="14.6">封信，建议父母在家庭应该形成哪些好习惯，</tspan><tspan x="694.7" dy="14.6">共同养成哪些好习惯。</tspan></text></g>
<g id="n7-5"><rect class="cy" x="688.7" y="4926" width="236.3" height="53.7" rx="4"/><text x="694.7" y="4942.3"><tspan>二、综合作业：有条理地整理好自己的书架和</tspan><tspan x="694.7" dy="14.6">衣柜;为家人盛一碗饭、倒一杯茶;给亲人、老</tspan><tspan x="694.7" dy="14.6">师、同学打3个以上的拜年电话。</tspan></text></g>
<g id="n7-6"><rect class="cy" x="688.7" y="5006" width="236.3" height="97.5" rx="4"/><text x="694.7" y="5022.3"><tspan>三、美术作业：画一张有关"欢度春节"的图画</tspan><tspan x="694.7" dy="14.6">;或自己动手做一个元宵节灯笼;或自己动手写</tspan><tspan x="694.7" dy="14.6">一幅春联;或自己动手做一个模型或手工作品;</tspan><tspan x="694.7" dy="14.6">或完成一件手工小制作;或学剪纸，剪一幅自</tspan><tspan x="694.7" dy="14.6">己喜欢的吉祥物的.物品，如羊、牡丹花、苹</tspan><tspan x="694.7" dy="14.6">果等等。</tspan></text></g>
<g id="n7-7"><rect class="cy" x="688.7" y="5154.2" width="236.3" height="68.3" rx="4"/><text x="694.7" y="5170.5"><tspan>四、开展"诚毅过春节"社会实践活动。社会实</tspan><tspan x="694.7" dy="14.6">践活动内容主要是节俭生活、安全文明、习惯</tspan><tspan x="694.7" dy="14.6">养成方面，同时写出实践活动报告或心得体会</tspan><tspan x="694.7" dy="14.6">。</tspan></text></g>
<g id="n7-7a"><rect class="cy" x="429.5" y="5130.2" width="237.7" height="53.7" rx="4"/><text x="435.5" y="5146.5"><tspan>开学后学校将组织优秀特色寒假作业展评(每</tspan><tspan x="435.5" dy="14.6">班提供10篇读书笔记;三张图画或三件制作、</tspan><tspan x="435.5" dy="14.6">剪纸等;5篇实践报告或心得)。</tspan></text></g>
<g id="n7-7b"><rect class="cy" x="554.5" y="5209.2" width="112.7" height="24.5" rx="4"/><text x="560.5" y="5225.5">五年级寒假特色作业</text></g>
<g id="n7-8"><rect class="cy" x="688.7" y="5258.8" width="236.3" height="126.7" rx="4"/><text x="694.7" y="5275.1"><tspan>一、共同作业：请每位家长和孩子一起选购好</tspan><tspan x="694.7" dy="14.6">书，亲子共读，进行交流、探讨，每人写两篇</tspan><tspan x="694.7" dy="14.6">："经典诵读"读书笔记。结合"节俭过春节"主</tspan><tspan x="694.7" dy="14.6">题，进行好习惯伴我行活动的体验，总结春节</tspan><tspan x="694.7" dy="14.6">期间自己养成了哪些好习惯，再谈谈自己在新</tspan><tspan x="694.7" dy="14.6">的一年里打算形成哪些好习惯;还可以给父母</tspan><tspan x="694.7" dy="14.6">写一封信，建议父母在家庭应该形成哪些好习</tspan><tspan x="694.7" dy="14.6">惯，共同养成哪些好习惯。</tspan></text></g>
<g id="n7-9"><rect class="cy" x="688.7" y="5411.2" width="236.3" height="53.7" rx="4"/><text x="694.7" y="5427.5"><tspan>二、综合作业：有条理地整理好自己的`书架</tspan><tspan x="694.7" dy="14.6">和衣柜;为家人盛一碗饭、倒一杯茶;给亲人、</tspan><tspan x="694.7" dy="14.6">老师、同学打3个以上的拜年电话。</tspan></text></g>
<g id="n7-10"><rect class="cy" x="688.7" y="5489.5" width="236.3" height="97.5" rx="4"/><text x="694.7" y="5505.8"><tspan>三、美术作业：画两张有关"欢度春节"的图画</tspan><tspan x="694.7" dy="14.6">;或自己动手做一个元宵节灯笼;或自己动手写</tspan><tspan x="694.7" dy="14.6">一幅春联;或自己动手做一个模型;或完成一件</tspan><tspan x="694.7" dy="14.6">手工小制作;或完成一幅手抄报;或学剪纸，剪</tspan><tspan x="694.7" dy="14.6">一幅自己喜欢的吉祥物的物品，如羊、牡丹花</tspan><tspan x="694.7" dy="14.6">、苹果等等。</tspan></text></g>
<g id="n7-11"><rect class="cy" x="688.7" y="5659.8" width="236.3" height="68.3" rx="4"/><text x="694.7" y="5676.1"><tspan>四、开展"诚毅过春节"社会实践活动。社会实</tspan><tspan x="694.7" dy="14.6">践活动内容主要是节俭生活、安全文明、习惯</tspan><tspan x="694.7" dy="14.6">养成方面，写一篇日记，同时写出实践活动报</tspan><tspan x="694.7" dy="14.6">告或心得体会。</tspan></text></g>
<g id="n7-11a"><rect class="cy" x="429.5" y="5614.5" width="237.7" height="68.3" rx="4"/><text x="435.5" y="5630.8"><tspan>寒假结束，学校将组织优秀特色寒假作业展评</tspan><tspan x="435.5" dy="14.6">。(每班提供10篇读书笔记;三张图画或三件制</tspan><tspan x="435.5" dy="14.6">作、剪纸等;3副手抄报;日记5份;5篇实践报告</tspan><tspan x="435.5" dy="14.6">或心得)。</tspan></text></g>
<g id="n7-11b"><rect class="cy" x="429.5" y="5707.2" width="237.7" height="68.3" rx="4"/><text x="435.5" y="5723.5"><tspan>以上要求，作为我校活动内容，开学后要求各</tspan><tspan x="435.5" dy="14.6">班班主任认真检查学生落实情况，并整理成书</tspan><tspan x="435.5" dy="14.6">面材料上交，学校将根据各班整理的书面材料</tspan><tspan x="435.5" dy="14.6">进行全校评比。</tspan></text></g>

<!-- Branch 2 -->
<g id="n2"><rect class="ny" x="1432.6" y="1964" width="201" height="33" rx="16.5"/><text class="nty" x="1533" y="1986">学校寒假放假安排方案篇2</text></g>
<g id="n2-0"><rect class="cy" x="1655" y="1946.8" width="238" height="68.3" rx="4"/><text x="1661" y="1963.1"><tspan>"以读书的方式过假期"是我校持之以恒的做法</tspan><tspan x="1661" dy="14.6">。20_年学校将"传家风·承家训"确定为寒假</tspan><tspan x="1661" dy="14.6">读书的主题，现制定寒假读书活动实施方案如</tspan><tspan x="1661" dy="14.6">下:</tspan></text></g>
<g id="n2-1"><rect class="cy" x="1915" y="1417.2" width="76.5" height="24.5" rx="4"/><text x="1921" y="1433.5">一、活动目的</text></g>
<g id="n2-1a"><rect class="cy" x="2014" y="1358.8" width="238" height="141.3" rx="4"/><text x="2020" y="1375.1"><tspan>优良的家风家训是一种无言的声音、无字的典</tspan><tspan x="2020" dy="14.6">籍，能够潜移默化地影响孩子的心灵与品格养</tspan><tspan x="2020" dy="14.6">成。现在"三口之家，孩子至上"的现实，使得</tspan><tspan x="2020" dy="14.6">传统的家训家风日益弱化，不少家庭对孩子过</tspan><tspan x="2020" dy="14.6">于溺爱、放纵，缺少必要的家训家风教育。"</tspan><tspan x="2020" dy="14.6">少成若天性，习惯如自然。"我们要紧紧抓住</tspan><tspan x="2020" dy="14.6">孩子成长的关键期，积极挖掘和培育良好的家</tspan><tspan x="2020" dy="14.6">风家训，使孩子养成良好的习惯，形成良好的</tspan><tspan x="2020" dy="14.6">情感，塑造良好的人格。</tspan></text></g>
<g id="n2-2"><rect class="cy" x="1915" y="1525.8" width="88" height="24.5" rx="4"/><text x="1921" y="1542.1">二、活动主题：</text></g>
<g id="n2-2a"><rect class="cy" x="2026.7" y="1525.8" width="79.3" height="24.5" rx="4"/><text x="2032.7" y="1542.1">传家风·承家训</text></g>
<g id="n2-3"><rect class="cy" x="1915" y="1575.8" width="88" height="24.5" rx="4"/><text x="1921" y="1592.1">三、活动对象：</text></g>
<g id="n2-3a"><rect class="cy" x="2026.7" y="1575.8" width="145.3" height="24.5" rx="4"/><text x="2032.7" y="1592.1">一至八年级全体学生及家长</text></g>
<g id="n2-4"><rect class="cy" x="1915" y="1810.8" width="76.5" height="24.5" rx="4"/><text x="1921" y="1827.1">四、活动内容</text></g>
<g id="n2-4a"><rect class="cy" x="2014" y="1654.5" width="238" height="53.7" rx="4"/><text x="2020" y="1670.8"><tspan>1、读一本名人的家风家训书籍。每一位优秀</tspan><tspan x="2020" dy="14.6">人物都是成长在一个家风纯正，家训严明的环</tspan><tspan x="2020" dy="14.6">境里，他们成功的背后都有一则有名的家训。</tspan></text></g>
<g id="n2-4a1"><rect class="cy" x="2274" y="1625.4" width="236.7" height="39.1" rx="4"/><text x="2280" y="1641.7"><tspan>一二年级学生提倡亲子阅读"家风家训"故事或</tspan><tspan x="2280" dy="14.6">绘本。</tspan></text></g>
<g id="n2-4a2"><rect class="cy" x="2274" y="1690" width="236.7" height="53.7" rx="4"/><text x="2280" y="1706.3"><tspan>三至八年级学生，根据年龄特点、理解能力和</tspan><tspan x="2280" dy="14.6">兴趣方向，由语文老师推荐，或者自主选择阅</tspan><tspan x="2280" dy="14.6">读一本有关家风家训的书籍。</tspan></text></g>
<g id="n2-4b"><rect class="cy" x="2014" y="1769" width="238" height="112.1" rx="4"/><text x="2020" y="1785.3"><tspan>2、聊一聊自己家族的家风家训。问一问父母</tspan><tspan x="2020" dy="14.6">长辈"我们家族的家训家风是什么"，了解祖辈</tspan><tspan x="2020" dy="14.6">传承下来的家风家训、近几年来形成的新家风</tspan><tspan x="2020" dy="14.6">家训、熟悉的或收藏的其他优秀家训。并与自</tspan><tspan x="2020" dy="14.6">己祖辈或父辈一起对家风家训进行提炼总结，</tspan><tspan x="2020" dy="14.6">形成通俗易懂、简短明快、朗朗上口的家风家</tspan><tspan x="2020" dy="14.6">训语言词句。</tspan></text></g>
<g id="n2-4c"><rect class="cy" x="2014" y="1906.8" width="238" height="112.1" rx="4"/><text x="2020" y="1923.1"><tspan>3、以"我家族的家风家训"为题，写一篇短文</tspan><tspan x="2020" dy="14.6">。三至八年级学生在阅读完名人家风家训相关</tspan><tspan x="2020" dy="14.6">文章或书籍后，在采访自己家庭长辈的前提下</tspan><tspan x="2020" dy="14.6">，完成一篇800字以内的作文。也可以记叙的</tspan><tspan x="2020" dy="14.6">方法将了解到的有关自己家庭家风家训故事清</tspan><tspan x="2020" dy="14.6">楚、完整的记录下来。开学后，学校将开展"</tspan><tspan x="2020" dy="14.6">说说我家的家风家训"系列读书分享活动。</tspan></text></g>
<g id="n2-5"><rect class="cy" x="1915" y="2229.8" width="78" height="24.5" rx="4"/><text x="1921" y="2246.1">五、展示方法</text></g>
<g id="n2-5a"><rect class="cy" x="2014" y="2047" width="238" height="68.3" rx="4"/><text x="2020" y="2063.3"><tspan>1、晒班级圈。假期中，各班要利用好智慧校</tspan><tspan x="2020" dy="14.6">园中的班级圈，及时用图片、视频的形式将家</tspan><tspan x="2020" dy="14.6">风家训读书活动推送出来，家长学生相互学习</tspan><tspan x="2020" dy="14.6">借鉴，语文教师及时点评。</tspan></text></g>
<g id="n2-5b"><rect class="cy" x="2014" y="2140" width="238" height="68.3" rx="4"/><text x="2020" y="2156.3"><tspan>2、班级读书会。春季开学以后，各班召开"</tspan><tspan x="2020" dy="14.6">家风家训读书会"，组织全体学生逐一围绕各</tspan><tspan x="2020" dy="14.6">自的家训家风，老师和同学们进行分享自己的</tspan><tspan x="2020" dy="14.6">生活故事。</tspan></text></g>
<g id="n2-5c"><rect class="cy" x="2014" y="2234" width="238" height="68.3" rx="4"/><text x="2020" y="2250.3"><tspan>3、阅读成果展评。开展"优秀家风家训"评选</tspan><tspan x="2020" dy="14.6">活动，对学生的心得或记录的家风家训故事进</tspan><tspan x="2020" dy="14.6">行评选，征集优秀家风家训。评选出的优秀家</tspan><tspan x="2020" dy="14.6">风家训学校进行表彰、宣传、展示。</tspan></text></g>
<g id="n2-5d"><rect class="cy" x="2014" y="2326.5" width="238" height="39.1" rx="4"/><text x="2020" y="2342.8"><tspan>4、学校读书报告会。开展"家风家训我来讲"</tspan><tspan x="2020" dy="14.6">读书报告会，激发学生的荣誉感。</tspan></text></g>
<g id="n2-5e"><rect class="cy" x="2014" y="2390.8" width="154" height="24.5" rx="4"/><text x="2020" y="2407.1">5、书写家风家训写字比赛。</text></g>
<g id="n2-6"><rect class="cy" x="1915" y="2521.8" width="78" height="24.5" rx="4"/><text x="1921" y="2538.1">六、工作要求</text></g>
<g id="n2-6a"><rect class="cy" x="2014" y="2441" width="238" height="39.1" rx="4"/><text x="2020" y="2457.3"><tspan>1、各位语文教师要重视此项主题阅读活动的</tspan><tspan x="2020" dy="14.6">开展，放假前对学生做好动员和具体要求。</tspan></text></g>
<g id="n2-6b"><rect class="cy" x="2014" y="2506" width="238" height="53.7" rx="4"/><text x="2020" y="2522.3"><tspan>2、各位语文教师要充分发挥自己的语文专业</tspan><tspan x="2020" dy="14.6">素养，认真策划，遴选符合学生年龄特点的、</tspan><tspan x="2020" dy="14.6">优秀的家风家训书籍，做好推荐。</tspan></text></g>
<g id="n2-6c"><rect class="cy" x="2014" y="2585" width="238" height="39.1" rx="4"/><text x="2020" y="2601.3"><tspan>3、假期中做好过程督促，开校做好检查展示</tspan><tspan x="2020" dy="14.6">。</tspan></text></g>

<!-- Branch 4 -->
<g id="n4"><rect class="nb" x="1432.6" y="3322" width="201" height="33" rx="16.5"/><text class="nt" x="1533" y="3344">学校寒假放假安排方案篇4</text></g>
<g id="n4-0"><rect class="cb" x="1655" y="2651.7" width="238" height="82.9" rx="4"/><text x="1661" y="2668"><tspan>中学生普遍缺乏实践能力是一个不争的事实，</tspan><tspan x="1661" dy="14.6">这是由许多原因导致的，包括教育制度、人才</tspan><tspan x="1661" dy="14.6">选拔方式、传统观念等。然而，教育学生的最</tspan><tspan x="1661" dy="14.6">终目的是为社会培养合格的人才，因此，培养</tspan><tspan x="1661" dy="14.6">学生的生活能力非常重要。</tspan></text></g>
<g id="n4-1"><rect class="cb" x="1655" y="2853.3" width="89" height="24.5" rx="4"/><text x="1661" y="2869.6">一、活动背景：</text></g>
<g id="n4-1a"><rect class="cb" x="1767.7" y="2759" width="236.3" height="214.3" rx="4"/><text x="1773.7" y="2775.3"><tspan>现在的初中生大多数是独生子女，无论在学习</tspan><tspan x="1773.7" dy="14.6">上还是生活上都要父母照顾，缺乏独立生活能</tspan><tspan x="1773.7" dy="14.6">力，缺乏基本的劳动技能，长期下去，将影响</tspan><tspan x="1773.7" dy="14.6">孩子的成长与进步。初中生的心理水平呈现半</tspan><tspan x="1773.7" dy="14.6">成熟、半幼稚性。其成熟性主要表现为他们产</tspan><tspan x="1773.7" dy="14.6">生了对成熟的'强烈追求和感受，在这种感受</tspan><tspan x="1773.7" dy="14.6">的作用下，他们在对人、对事的态度、情绪情</tspan><tspan x="1773.7" dy="14.6">感的表达方式以及行为的内容和方向等都发生</tspan><tspan x="1773.7" dy="14.6">了明显的变化。因此，利用寒假，各班级开展</tspan><tspan x="1773.7" dy="14.6">"我是生活小主人"系列活动，能有效培养学生</tspan><tspan x="1773.7" dy="14.6">基本的生活技能、传承中华民族的传统文化、</tspan><tspan x="1773.7" dy="14.6">提高学生的生活自理能力，最终使学生得到家</tspan><tspan x="1773.7" dy="14.6">长、学校和社会给予他们成人式的信任和尊重</tspan><tspan x="1773.7" dy="14.6">，获得成就感。</tspan></text></g>
<g id="n4-2"><rect class="cb" x="1655" y="3179.3" width="89" height="24.5" rx="4"/><text x="1661" y="3195.6">二、活动目的：</text></g>
<g id="n4-2a"><rect class="cb" x="1767.7" y="2999" width="236.3" height="82.9" rx="4"/><text x="1773.7" y="3015.3"><tspan>1、以培养和树立学生在春节期间的认知传统</tspan><tspan x="1773.7" dy="14.6">、尊重传统、继承传统、弘扬传统的思想观念</tspan><tspan x="1773.7" dy="14.6">，增强学生对中华优秀文化的认同感和自豪感</tspan><tspan x="1773.7" dy="14.6">，着力营造欢乐、祥和、平安、健康、文明的</tspan><tspan x="1773.7" dy="14.6">节日氛围。</tspan></text></g>
<g id="n4-2b"><rect class="cb" x="1767.7" y="3107" width="236.3" height="112.1" rx="4"/><text x="1773.7" y="3123.3"><tspan>2、通过让学生当家、大扫除、准备年夜饭等</tspan><tspan x="1773.7" dy="14.6">活动，培养学生生活实践能力和动手能力，了</tspan><tspan x="1773.7" dy="14.6">解爸爸妈妈平时当家的辛苦以及为家庭付出的</tspan><tspan x="1773.7" dy="14.6">劳动，增进父母与子女间的感情交流。能以实</tspan><tspan x="1773.7" dy="14.6">际行动报答父母辛劳，为家庭分忧，使学生体</tspan><tspan x="1773.7" dy="14.6">会家长的辛苦，激发学生关爱家人、体谅父母</tspan><tspan x="1773.7" dy="14.6">的情感。</tspan></text></g>
<g id="n4-2c"><rect class="cb" x="1767.7" y="3244" width="236.3" height="53.7" rx="4"/><text x="1773.7" y="3260.3"><tspan>3、通过让学生为长辈做一件事、参加民俗活</tspan><tspan x="1773.7" dy="14.6">动增强学生对中华优秀传统文化的认同感和自</tspan><tspan x="1773.7" dy="14.6">豪感。</tspan></text></g>
<g id="n4-2d"><rect class="cb" x="1767.7" y="3324" width="236.3" height="39.1" rx="4"/><text x="1773.7" y="3340.3"><tspan>4、通过对压岁钱的规划，学习正确理财、合</tspan><tspan x="1773.7" dy="14.6">理消费、节约用钱，养成勤俭的好习惯。</tspan></text></g>
<g id="n4-3"><rect class="cb" x="1655" y="3461.3" width="79" height="24.5" rx="4"/><text x="1661" y="3477.6">三、活动原则</text></g>
<g id="n4-3a"><rect class="cb" x="1755.6" y="3389" width="237" height="39.1" rx="4"/><text x="1761.6" y="3405.3"><tspan>1、人人参与原则。每个学生都参与此项活动</tspan><tspan x="1761.6" dy="14.6">，人人都有劳动的体验。</tspan></text></g>
<g id="n4-3b"><rect class="cb" x="1755.6" y="3453" width="237" height="39.1" rx="4"/><text x="1761.6" y="3469.3"><tspan>2、自主设计原则。学生自行设计自己的活动</tspan><tspan x="1761.6" dy="14.6">。</tspan></text></g>
<g id="n4-3c"><rect class="cb" x="1755.6" y="3517.5" width="237" height="39.1" rx="4"/><text x="1761.6" y="3533.8"><tspan>3、家长协助原则。家长可以帮助孩子，教一</tspan><tspan x="1761.6" dy="14.6">些技巧。</tspan></text></g>
<g id="n4-4"><rect class="cb" x="1655" y="3676.8" width="79" height="24.5" rx="4"/><text x="1661" y="3693.1">四、活动准备</text></g>
<g id="n4-4a"><rect class="cb" x="1755.6" y="3583" width="237" height="68.3" rx="4"/><text x="1761.6" y="3599.3"><tspan>1、调动学生参与的积极性，在班上做好宣传</tspan><tspan x="1761.6" dy="14.6">，学生做好劳动常识资料的查阅。在此过程发</tspan><tspan x="1761.6" dy="14.6">现自己不会的家务劳动及生活技能可提前向家</tspan><tspan x="1761.6" dy="14.6">长讨教、演练。</tspan></text></g>
<g id="n4-4b"><rect class="cb" x="1755.6" y="3676" width="237" height="39.1" rx="4"/><text x="1761.6" y="3692.3"><tspan>2、设计好活动评价表发给学生，让学生自评</tspan><tspan x="1761.6" dy="14.6">及家长评。</tspan></text></g>
<g id="n4-4c"><rect class="cb" x="1755.6" y="3741" width="237" height="39.1" rx="4"/><text x="1761.6" y="3757.3"><tspan>3、家长要确保孩子的安全，家长用照片、录</tspan><tspan x="1761.6" dy="14.6">像等形式记录孩子活动经历。</tspan></text></g>
<g id="n4-5"><rect class="cb" x="1655" y="3971.3" width="79" height="24.5" rx="4"/><text x="1661" y="3987.6">五、活动内容</text></g>
<g id="n4-5a"><rect class="cb" x="1755.6" y="3806.3" width="44.4" height="24.5" rx="4"/><text x="1761.6" y="3822.6">七年级</text></g>
<g id="n4-5b"><rect class="cb" x="1755.6" y="3855.8" width="227.4" height="24.5" rx="4"/><text x="1761.6" y="3872.1">1、我当一天家(帮父母买菜、做饭、洗衣等)</text></g>
<g id="n4-5c"><rect class="cb" x="1755.6" y="3906.3" width="221.8" height="24.5" rx="4"/><text x="1761.6" y="3922.6">2、为长辈做一件事(洗头、洗脚、按摩等)"</text></g>
<g id="n4-5c1"><rect class="cb" x="2000.7" y="3906.3" width="43.3" height="24.5" rx="4"/><text x="2006.7" y="3922.6">八年级</text></g>
<g id="n4-5d"><rect class="cb" x="1755.6" y="3956.3" width="84.4" height="24.5" rx="4"/><text x="1761.6" y="3972.6">1、家庭大扫除</text></g>
<g id="n4-5e"><rect class="cb" x="1755.6" y="4007.5" width="237" height="39.1" rx="4"/><text x="1761.6" y="4023.8"><tspan>2、参与一项民俗活动(如写、贴春联，守夜、</tspan><tspan x="1761.6" dy="14.6">拿红包、放爆竹烟花)</tspan></text></g>
<g id="n4-5e1"><rect class="cb" x="2015" y="4014.8" width="43.6" height="24.5" rx="4"/><text x="2021" y="4031.1">九年级</text></g>
<g id="n4-5f"><rect class="cb" x="1755.6" y="4072" width="237" height="39.1" rx="4"/><text x="1761.6" y="4088.3"><tspan>1、春节我当美食家(做馒头、蒸年糕、炸肉丸</tspan><tspan x="1761.6" dy="14.6">、准备年夜饭等)</tspan></text></g>
<g id="n4-5g"><rect class="cb" x="1755.6" y="4136.3" width="129.4" height="24.5" rx="4"/><text x="1761.6" y="4152.6">2、我的压岁钱使用规划</text></g>

<!-- Branch 6 -->
<g id="n6"><rect class="nr" x="1432.6" y="4448" width="201" height="33" rx="16.5"/><text class="nt" x="1533" y="4470">学校寒假放假安排方案篇6</text></g>
<g id="n6-0"><rect class="cr" x="1655" y="4186" width="238" height="97.5" rx="4"/><text x="1661" y="4202.3"><tspan>为了引导学生了解社会、关注民生，培育公益</tspan><tspan x="1661" dy="14.6">理念，用实际行动传递爱心，为了确保学生过</tspan><tspan x="1661" dy="14.6">一个有意义的寒假，满足广大青少年学生假期</tspan><tspan x="1661" dy="14.6">多样化的活动需求，为未成年人的健康成长服</tspan><tspan x="1661" dy="14.6">务，我社区决定在寒假组织青少年开展各类公</tspan><tspan x="1661" dy="14.6">益性活动。</tspan></text></g>
<g id="n6-1"><rect class="cr" x="1655" y="4316.8" width="89" height="24.5" rx="4"/><text x="1661" y="4333.1">一、活动主题：</text></g>
<g id="n6-1a"><rect class="cr" x="1767.7" y="4309.5" width="236.3" height="39.1" rx="4"/><text x="1773.7" y="4325.8"><tspan>在学校做个好学生，在家里做个好孩子，在社</tspan><tspan x="1773.7" dy="14.6">区做个好公民。</tspan></text></g>
<g id="n6-2"><rect class="cr" x="1655" y="4375.3" width="89" height="24.5" rx="4"/><text x="1661" y="4391.6">二、活动时间：</text></g>
<g id="n6-2a"><rect class="cr" x="1767.7" y="4375.3" width="153.3" height="24.5" rx="4"/><text x="1773.7" y="4391.6">20_年1月16日—2月10日。</text></g>
<g id="n6-3"><rect class="cr" x="1655" y="4681.3" width="89" height="24.5" rx="4"/><text x="1661" y="4697.6">三、活动内容：</text></g>
<g id="n6-3a"><rect class="cr" x="1767.7" y="4424" width="236.3" height="97.5" rx="4"/><text x="1773.7" y="4440.3"><tspan>1、开展假期安全教育活动。在全社区未成年</tspan><tspan x="1773.7" dy="14.6">人特别是中小学生当中大力开展以安全防范为</tspan><tspan x="1773.7" dy="14.6">主要内容的安全知识教育活动，主要内容包括</tspan><tspan x="1773.7" dy="14.6">危险自救;培养对危险情况的识别能力，自觉</tspan><tspan x="1773.7" dy="14.6">远离危险场所;加强对青少年防范意识的培养</tspan><tspan x="1773.7" dy="14.6">，避免意外伤害等。</tspan></text></g>
<g id="n6-3b"><rect class="cr" x="1767.7" y="4547.5" width="236.3" height="97.5" rx="4"/><text x="1773.7" y="4563.8"><tspan>2、深入开展以"促环保、爱生活"为主题的公</tspan><tspan x="1773.7" dy="14.6">益活动。以"我为社区环境贡献一份力量"为主</tspan><tspan x="1773.7" dy="14.6">要活动内容，通过设立宣传板，开展生态活动</tspan><tspan x="1773.7" dy="14.6">等形式，从身边的每一件小事做起，培养青少</tspan><tspan x="1773.7" dy="14.6">年学生的生态保护情感，进一步增强青少年儿</tspan><tspan x="1773.7" dy="14.6">童的主人翁意识和社会责任感。</tspan></text></g>
<g id="n6-3c"><rect class="cr" x="1767.7" y="4670" width="236.3" height="82.9" rx="4"/><text x="1773.7" y="4686.3"><tspan>3、开展"做文明行为小使者，过安全快乐幸</tspan><tspan x="1773.7" dy="14.6">福年"教育。培养青少年良好的行为习惯，从</tspan><tspan x="1773.7" dy="14.6">孝敬父母、尊敬老师入手，培养青少年文明的</tspan><tspan x="1773.7" dy="14.6">礼仪，从为父母长辈做一件小事入手，培养青</tspan><tspan x="1773.7" dy="14.6">少年应有的基本品质和动手、动脑能力。</tspan></text></g>
<g id="n6-3d"><rect class="cr" x="1767.7" y="4779" width="236.3" height="82.9" rx="4"/><text x="1773.7" y="4795.3"><tspan>4、安排广大青少年利用假期开展春节送温暖</tspan><tspan x="1773.7" dy="14.6">活动。志愿服务社区孤寡老人、残疾人，帮助</tspan><tspan x="1773.7" dy="14.6">孤寡老人及残疾人打扫卫生、整理房间等，让</tspan><tspan x="1773.7" dy="14.6">孤寡老人及残疾人能够过一个干净整洁温暖的</tspan><tspan x="1773.7" dy="14.6">春节。</tspan></text></g>
<g id="n6-3e"><rect class="cr" x="1767.7" y="4887" width="236.3" height="53.7" rx="4"/><text x="1773.7" y="4903.3"><tspan>5、进行一次针对春节、元宵节这两个节日，</tspan><tspan x="1773.7" dy="14.6">开展编春联、写春联、话民俗、做灯笼、集灯</tspan><tspan x="1773.7" dy="14.6">谜等活动。</tspan></text></g>
</g>
</svg>
